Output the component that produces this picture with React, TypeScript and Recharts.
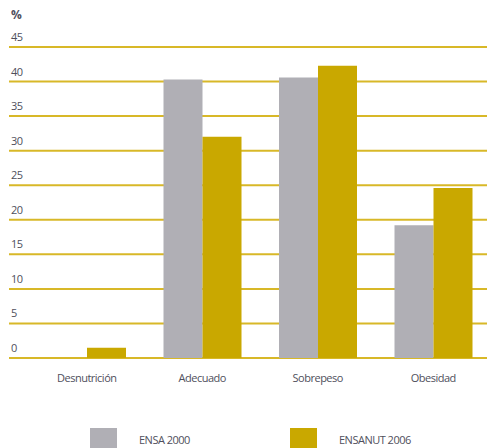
import { BarChart, Bar, XAxis, YAxis, CartesianGrid } from 'recharts';

const categorias = ['Desnutrición', 'Adecuado', 'Sobrepeso', 'Obesidad'];
const ensa2000 = [0, 40.3, 40.6, 19.2];
const ensanut2006 = [1.5, 32.0, 42.3, 24.6];
const yTicks = [0, 5, 10, 15, 20, 25, 30, 35, 40, 45];

const GRIS = '#b0afb5';
const ORO = '#c9a800';
const TEXTO = '#4f4f5c';
const FUENTE = '"Open Sans", "DejaVu Sans", sans-serif';

const series = [
  { key: 'ensa', name: 'ENSA 2000', color: GRIS },
  { key: 'ensanut', name: 'ENSANUT 2006', color: ORO },
];

const data = categorias.map((c, i) => ({
  categoria: c,
  ensa: ensa2000[i],
  ensanut: ensanut2006[i],
}));

// etiqueta del eje Y colocada encima de la línea de la cuadrícula
function YTick(props: any) {
  const { y, payload } = props;
  return (
    <text x={11} y={y - 6} fill={TEXTO} fontSize={11} fontFamily={FUENTE} letterSpacing={-0.5} textAnchor="start">
      {payload.value}
    </text>
  );
}

export default function App() {
  return (
    <div style={{ position: 'absolute', left: 0, top: 0, width: 487, height: 448, background: '#fff', overflow: 'hidden' }}>
      <div style={{ position: 'absolute', left: 11, top: 6, fontSize: 12, fontWeight: 700, color: TEXTO, fontFamily: FUENTE }}>%</div>
      <BarChart
        width={491}
        height={448}
        data={data}
        margin={{ top: 47, right: 0, left: 0, bottom: 60 }}
        barSize={39}
        barGap={0}
      >
        <CartesianGrid vertical={false} stroke="#d8b828" strokeWidth={2} />
        <XAxis
          dataKey="categoria"
          axisLine={false}
          tickLine={false}
          height={30}
          padding={{ left: 20, right: 0 }}
          tickMargin={10}
          tick={{ fill: TEXTO, fontSize: 11, fontFamily: FUENTE, letterSpacing: -0.5 }}
        />
        <YAxis
          width={9}
          domain={[0, 45]}
          ticks={yTicks}
          interval={0}
          axisLine={false}
          tickLine={false}
          tick={(p: any) => <YTick {...p} />}
        />
        {series.map((s) => (
          <Bar key={s.key} dataKey={s.key} name={s.name} fill={s.color} isAnimationActive={false} />
        ))}
      </BarChart>
      {series.map((s, i) => (
        <div key={s.key} style={{ position: 'absolute', top: 428, left: 90 + i * 200, display: 'flex', alignItems: 'center' }}>
          <div style={{ width: 27, height: 22, background: s.color }} />
          <span style={{ marginLeft: 22, fontSize: 11, color: TEXTO, fontFamily: FUENTE, letterSpacing: -0.5 }}>{s.name}</span>
        </div>
      ))}
    </div>
  );
}
